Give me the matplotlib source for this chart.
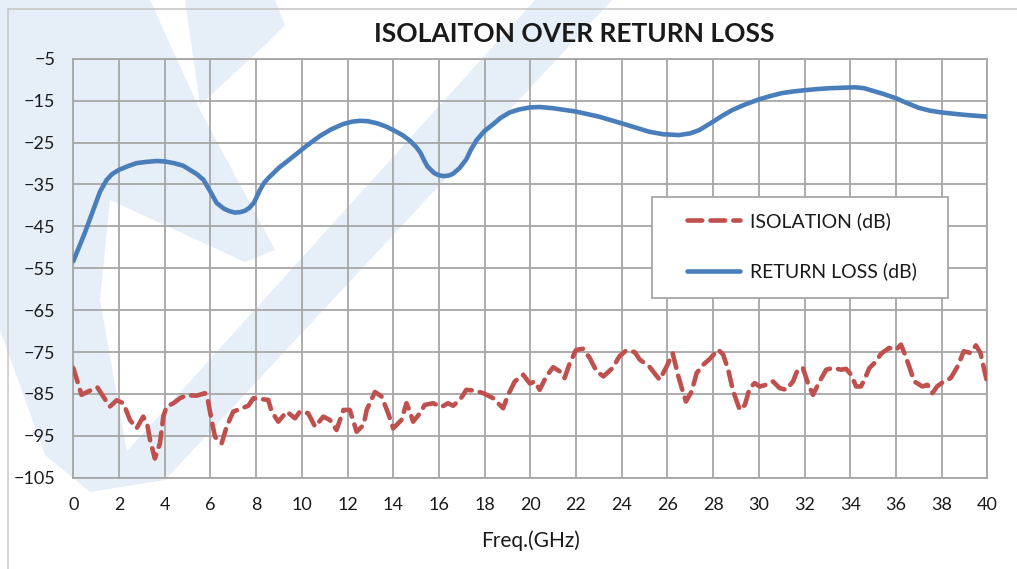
import matplotlib
matplotlib.use("Agg")
import matplotlib.pyplot as plt
from matplotlib.patches import Polygon, Rectangle

# return loss curve (GHz, dB)
rl_freq = [0, 0.5, 1.17, 1.46, 1.7, 2.0, 2.4, 2.77, 3.2, 3.65, 4.0, 4.4, 4.8, 5.1, 5.4,
           5.7, 6.0, 6.27, 6.6, 6.85, 7.08, 7.3, 7.5, 7.7, 7.9, 8.17, 8.35, 8.53, 9.0,
           9.63, 10.2, 10.8, 11.3, 11.8, 12.2, 12.55, 12.9, 13.3, 13.7, 14.0, 14.4,
           14.7, 15.0, 15.2, 15.35, 15.5, 15.8, 16.0, 16.2, 16.4, 16.6, 16.9, 17.2,
           17.4, 17.65, 18.0, 18.4, 18.7, 19.1, 19.5, 20.0, 20.4, 21.0, 21.5, 22.0,
           23.0, 24.0, 24.6, 25.2, 25.8, 26.5, 27.0, 27.4, 28.0, 28.4, 28.85, 29.4,
           30.0, 30.5, 31.0, 31.5, 32.0, 32.6, 33.2, 33.7, 34.2, 34.6, 34.9, 35.4,
           36.0, 36.5, 37.0, 37.5, 38.0, 38.5, 39.05, 39.5, 40.0]
rl_db = [-53.3, -46.6, -36.7, -33.9, -32.5, -31.5, -30.6, -29.9, -29.6, -29.4, -29.5,
         -29.9, -30.5, -31.5, -32.5, -33.9, -36.7, -39.4, -40.8, -41.4, -41.7, -41.6,
         -41.3, -40.6, -39.4, -36.3, -34.6, -33.5, -31.0, -28.3, -25.8, -23.4, -21.8,
         -20.6, -20.0, -19.8, -19.9, -20.4, -21.2, -22.0, -23.2, -24.4, -26.0, -27.5,
         -29.2, -30.7, -32.3, -32.8, -33.0, -32.9, -32.5, -31.1, -29.0, -26.7, -24.4,
         -22.2, -20.5, -19.1, -17.8, -17.1, -16.6, -16.5, -16.8, -17.2, -17.6, -18.8,
         -20.4, -21.4, -22.4, -23.0, -23.2, -22.8, -22.0, -20.0, -18.6, -17.2, -15.9,
         -14.7, -13.9, -13.2, -12.8, -12.5, -12.2, -12.0, -11.9, -11.8, -12.0, -12.5,
         -13.3, -14.4, -15.6, -16.7, -17.4, -17.8, -18.1, -18.4, -18.6, -18.8]

# isolation curve (GHz, dB)
iso_freq = [0, 0.36, 0.73, 1.05, 1.31, 1.6, 1.9, 2.19, 2.48, 2.77, 3.06, 3.24, 3.36,
            3.57, 3.79, 3.94, 4.08, 4.38, 4.67, 4.96, 5.4, 5.76, 5.9, 6.05, 6.2, 6.49,
            6.71, 7.0, 7.37, 7.66, 7.88, 8.17, 8.53, 8.68, 8.97, 9.34, 9.7, 9.92,
            10.28, 10.58, 10.94, 11.23, 11.52, 11.82, 12.1, 12.4, 12.7, 12.84, 13.2,
            13.49, 13.78, 14.0, 14.36, 14.58, 14.73, 14.87, 15.17, 15.38, 15.75,
            16.11, 16.4, 16.62, 16.92, 17.2, 17.57, 17.94, 18.37, 18.81, 19.03,
            19.32, 19.69, 19.98, 20.2, 20.41, 20.7, 21.0, 21.29, 21.5, 21.73, 22.0,
            22.3, 22.6, 22.9, 23.2, 23.6, 23.9, 24.2, 24.57, 24.79, 25.2, 25.66,
            25.97, 26.23, 26.48, 26.63, 26.81, 27.06, 27.28, 27.57, 27.86, 28.22,
            28.44, 28.66, 28.88, 29.17, 29.39, 29.6, 29.82, 30.04, 30.33, 30.62,
            30.91, 31.2, 31.5, 31.7, 31.93, 32.15, 32.37, 32.66, 32.95, 33.24, 33.6,
            33.82, 34.04, 34.26, 34.47, 34.62, 34.84, 35.13, 35.35, 35.7, 36.0,
            36.22, 36.37, 36.58, 36.8, 37.16, 37.38, 37.6, 37.8, 38.1, 38.4, 38.7,
            38.97, 39.26, 39.5, 39.7, 39.85, 40.0]
iso_db = [-78.8, -85.2, -84.2, -83.4, -85.6, -88.0, -86.5, -87.2, -91.2, -93.2, -90.4,
          -92.4, -96.0, -100.4, -96.8, -90.4, -88.0, -87.2, -86.0, -85.3, -85.4, -84.8,
          -86.8, -91.2, -95.2, -96.8, -92.8, -89.2, -88.4, -87.8, -86.0, -86.2, -86.4,
          -89.2, -91.6, -89.2, -90.8, -89.2, -89.6, -92.8, -90.4, -91.2, -93.6, -88.8,
          -88.8, -94.0, -92.4, -88.8, -84.5, -85.6, -89.6, -93.2, -91.2, -87.2, -89.2,
          -91.6, -89.6, -87.6, -87.2, -88.1, -87.2, -87.8, -86.4, -84.0, -84.2, -84.8,
          -86.0, -88.4, -85.2, -82.0, -80.4, -82.5, -82.0, -84.0, -80.8, -78.6, -79.6,
          -81.2, -77.6, -74.5, -74.2, -76.4, -79.6, -80.8, -78.8, -76.0, -74.6, -75.0,
          -76.8, -78.4, -81.6, -78.4, -75.3, -80.8, -83.6, -86.8, -84.4, -80.0, -78.0,
          -76.6, -74.4, -75.6, -79.2, -84.4, -88.8, -87.6, -83.6, -82.4, -83.2, -82.8,
          -82.0, -83.6, -84.0, -82.0, -79.2, -78.8, -82.4, -85.2, -82.0, -79.2, -78.8,
          -79.2, -79.0, -80.4, -83.2, -83.2, -81.6, -78.8, -77.2, -75.4, -74.0, -74.5,
          -73.2, -75.2, -78.4, -82.0, -83.2, -82.8, -84.8, -83.2, -82.0, -81.2, -78.4,
          -74.8, -75.2, -73.4, -75.2, -78.8, -82.4]

x_ticks = list(range(0, 41, 2))
y_ticks = list(range(-105, 0, 10))

W, H = 1017, 569
fig = plt.figure(figsize=(W / 100, H / 100), dpi=100)
plt.rcParams['font.family'] = ['Lato', 'DejaVu Sans']


def fig_xy(pts):
    # pixel coords (y down) -> figure fraction
    return [(x / W, 1 - y / H) for x, y in pts]


# faint watermark logo behind the chart
wm = '#e6eef7'
shapes = [
    [(0, 0), (150, 0), (200, 110), (275, 250), (245, 262), (110, 200), (100, 300),
     (130, 470), (90, 492), (45, 455), (0, 330)],
    [(185, 0), (275, 0), (285, 25), (265, 45), (200, 105)],
    [(90, 492), (165, 480), (612, 0), (535, 0)],
]
for pts in shapes:
    fig.add_artist(Polygon(fig_xy(pts), closed=True, facecolor=wm, edgecolor='none', zorder=0))

# outer chart border
fig.add_artist(Rectangle((8 / W, -0.05), 1.1, 1 - 9 / H + 0.05, fill=False,
                         edgecolor='#c8c8c8', linewidth=1.2, zorder=0))

ax = fig.add_axes([73.3 / W, 1 - 477.8 / H, 914 / W, 419 / H])
ax.patch.set_alpha(0)

ax.plot(iso_freq, iso_db, color='#c0504d', linewidth=3.3, linestyle=(0, (3.2, 1.8)),
        dash_capstyle='round', solid_joinstyle='round', label='ISOLATION (dB)', zorder=3)
ax.plot(rl_freq, rl_db, color='#4a7ebb', linewidth=3.3, solid_capstyle='round',
        solid_joinstyle='round', label='RETURN LOSS (dB)', zorder=3)

ax.set_xlim(0, 40)
ax.set_ylim(-105, -5)
ax.set_xticks(x_ticks)
ax.set_yticks(y_ticks)
ax.grid(True, color='#a6a6a6', linewidth=1.3)
ax.set_axisbelow(True)
for s in ax.spines.values():
    s.set_color('#a6a6a6')
    s.set_linewidth(1.3)
ax.tick_params(length=0, labelsize=13, colors='#1a1a1a')
ax.tick_params(axis='y', pad=13)
ax.tick_params(axis='x', pad=14)
ax.set_xlabel('Freq.(GHz)', fontsize=15, color='#1a1a1a', labelpad=12)

fig.text(574 / W, 1 - 34 / H, 'ISOLAITON OVER RETURN LOSS', ha='center', va='center',
         fontsize=19, fontweight='bold', color='#1a1a1a')

# legend frame drawn by hand, entries placed inside it
frame = Rectangle((651.7 / W, 1 - 298.3 / H), 296 / W, 101.6 / H, transform=fig.transFigure,
                  facecolor='white', edgecolor='#a6a6a6', linewidth=1.3, zorder=4,
                  clip_on=False)
ax.add_patch(frame)
leg = ax.legend(loc='upper left', bbox_to_anchor=(686.7 / W, 1 - 212 / H),
                bbox_transform=fig.transFigure, fontsize=14, frameon=False,
                borderaxespad=0, borderpad=0, handlelength=2.75,
                handletextpad=0.5, labelspacing=1.68)
leg.set_zorder(5)
for t in leg.get_texts():
    t.set_color('#1a1a1a')

fig.savefig('out.png', dpi=100)
